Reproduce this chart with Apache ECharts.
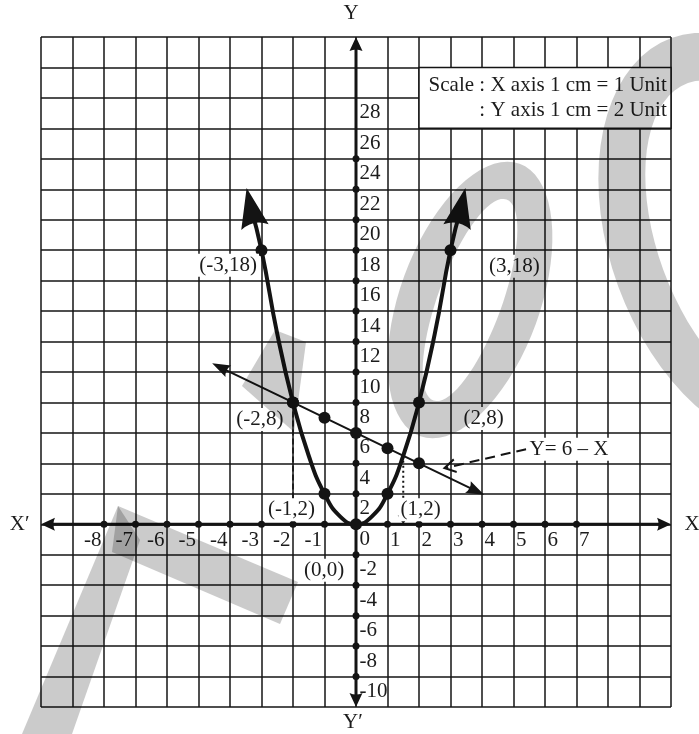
<!DOCTYPE html>
<html>
<head>
<meta charset="utf-8">
<title>Y = 2X² and Y = 6 − X</title>
<script src="https://cdn.jsdelivr.net/npm/echarts@6/dist/echarts.min.js"></script>
<style>
  html, body { margin: 0; padding: 0; background: #fff; }
  #main { width: 699px; height: 734px; }
</style>
</head>
<body>
<div id="main"></div>
<script>
var myChart = echarts.init(document.getElementById('main'));

// tick labels
var xTickValues = [-8, -7, -6, -5, -4, -3, -2, -1, 1, 2, 3, 4, 5, 6, 7];
var yTickValues = [28, 26, 24, 22, 20, 18, 16, 14, 12, 10, 8, 6, 4, 2, 0, -2, -4, -6, -8, -10];
var yDotValues = [24, 22, 20, 18, 16, 14, 12, 10, 8, 6, 4, 2, -2, -4, -6, -8, -10];

// y = 2x^2 : plotted points and the drawn curve (ends under the arrow heads)
var parabolaPts = [[-3, 18], [-2, 8], [-1, 2], [0, 0], [1, 2], [2, 8], [3, 18]];
var parabolaPath = [[-3.34, 20.8], [-3, 18], [-2.5, 12.5], [-2, 8], [-1.5, 4.5], [-1, 2], [-0.5, 0.5], [0, 0],
                    [0.5, 0.5], [1, 2], [1.5, 4.5], [2, 8], [2.5, 12.5], [3, 18], [3.34, 20.8]];
var parabolaLabels = ['(-3,18)', '(-2,8)', '(-1,2)', '(0,0)', '(1,2)', '(2,8)', '(3,18)'];

// y = 6 - x
var linePts = [[-2, 8], [-1, 7], [0, 6], [1, 5], [2, 4]];
var lineEnds = [[-4.31, 10.31], [3.81, 2.19]];

// solutions dropped on the x axis
var dropLeft = [[-2, 8], [-2, 0.3]];
var dropRight = [[1.5, 4.5], [1.5, 0.3]];

// "Y = 6 - X" pointer
var annoText = 'Y= 6 – X';
var annoLine = [[5.4, 4.93], [2.82, 3.69]];

var scaleLines = ['Scale : X axis 1 cm = 1 Unit', ': Y axis 1 cm = 2 Unit'];
var axisNames = { x: 'X', xNeg: 'X′', y: 'Y', yNeg: 'Y′' };

var INK = '#141414';
var TXT = '#1c1c1c';
var WASH = '#cbcbcb';
var SERIF = '"Liberation Serif", "DejaVu Serif", serif';
var ARROW = 'path://M5,0 L10,14 Q5,11 0,14 Z';
var OPEN_ARROW = 'path://M0,12 L6,0 L12,12';

// where each point label sits relative to its point
var labelPlace = {
    '(-3,18)': { position: 'left', distance: 2, offset: [0, 15] },
    '(3,18)': { position: 'right', distance: 36, offset: [0, 16] },
    '(-2,8)': { position: 'left', distance: 7, offset: [0, 17] },
    '(2,8)': { position: 'right', distance: 42, offset: [0, 16] },
    '(-1,2)': { position: 'inside', distance: 0, offset: [-33, 16] },
    '(1,2)': { position: 'inside', distance: 0, offset: [33, 16] },
    '(0,0)': { position: 'inside', distance: 0, offset: [-32, 46] }
};

var labelFont = { fontFamily: SERIF, fontSize: 21, color: TXT };

function textPoint(value, label) {
    return { value: value, label: label };
}

// watermark ring outline: outer loop one way, inner loop back the other way
function ringPoints(cx, cy, rx, ry, t, rot) {
    var a = rot * Math.PI / 180, pts = [], n = 72, i, s;
    for (i = 0; i <= n; i++) {
        s = 2 * Math.PI * i / n;
        pts.push([cx + rx * Math.cos(s) * Math.cos(a) - ry * Math.sin(s) * Math.sin(a),
                  cy + rx * Math.cos(s) * Math.sin(a) + ry * Math.sin(s) * Math.cos(a)]);
    }
    for (i = n; i >= 0; i--) {
        s = 2 * Math.PI * i / n;
        pts.push([cx + (rx - t) * Math.cos(s) * Math.cos(a) - (ry - t) * Math.sin(s) * Math.sin(a),
                  cy + (rx - t) * Math.cos(s) * Math.sin(a) + (ry - t) * Math.sin(s) * Math.cos(a)]);
    }
    return pts;
}

var arrowHeads = [
    { value: [-9.78, 0], symbol: ARROW, symbolSize: [13, 14], symbolRotate: 90 },
    { value: [9.78, 0], symbol: ARROW, symbolSize: [13, 14], symbolRotate: -90 },
    { value: [0, 31.54], symbol: ARROW, symbolSize: [13, 14], symbolRotate: 0 },
    { value: [0, -11.54], symbol: ARROW, symbolSize: [13, 14], symbolRotate: 180 },
    { value: parabolaPath[0], symbol: ARROW, symbolSize: [28, 40], symbolRotate: 12 },
    { value: parabolaPath[parabolaPath.length - 1], symbol: ARROW, symbolSize: [28, 40], symbolRotate: -12 },
    { value: lineEnds[0], symbol: ARROW, symbolSize: [13, 18], symbolRotate: 64 },
    { value: lineEnds[1], symbol: ARROW, symbolSize: [13, 18], symbolRotate: -116 },
    { value: dropLeft[1], symbol: 'triangle', symbolSize: [11, 9], symbolRotate: 180 },
    { value: dropRight[1], symbol: 'triangle', symbolSize: [11, 9], symbolRotate: 180 },
    { value: [2.98, 3.77], symbol: OPEN_ARROW, symbolSize: [13, 11], symbolRotate: 103,
      itemStyle: { color: 'none', borderColor: INK, borderWidth: 2 } }
];

var solid = { color: INK, opacity: 1 };
var hidden = { color: 'rgba(0,0,0,0)', opacity: 1 };
var washStyle = { fill: WASH, blend: 'multiply' };

option = {
    animation: false,
    backgroundColor: '#fff',
    grid: { left: 41, top: 37, width: 630, height: 670, show: false },
    xAxis: {
        type: 'value', min: -10, max: 10, interval: 1,
        axisLine: { show: false }, axisTick: { show: false }, axisLabel: { show: false },
        splitLine: { show: true, lineStyle: { color: INK, width: 1.5 } }
    },
    yAxis: {
        type: 'value', min: -12, max: 32, interval: 2,
        axisLine: { show: false }, axisTick: { show: false }, axisLabel: { show: false },
        splitLine: { show: true, lineStyle: { color: INK, width: 1.5 } }
    },
    // faint watermark behind the ink
    graphic: [
        { type: 'polygon', z: 100, silent: true, shape: { points: ringPoints(745, 240, 135, 215, 48, -20) }, style: washStyle },
        { type: 'polygon', z: 100, silent: true, shape: { points: ringPoints(470, 300, 70, 145, 38, 20) }, style: washStyle },
        { type: 'polygon', z: 100, silent: true, shape: { points: [[275, 330], [306, 342], [294, 432], [242, 386]] }, style: washStyle },
        { type: 'polygon', z: 100, silent: true, shape: { points: [[118, 506], [298, 582], [280, 624], [112, 552]] }, style: washStyle },
        { type: 'polygon', z: 100, silent: true, shape: { points: [[118, 506], [140, 540], [72, 734], [22, 734]] }, style: washStyle }
    ],
    series: [
        // scale box
        {
            type: 'scatter', data: [], silent: true, z: 1,
            markArea: {
                silent: true,
                itemStyle: { color: '#fff', borderColor: INK, borderWidth: 1.5, opacity: 1 },
                label: {
                    show: true, position: 'insideRight', distance: 5, align: 'right',
                    fontFamily: SERIF, fontSize: 21, lineHeight: 25, color: TXT,
                    formatter: scaleLines.join('\n')
                },
                data: [[{ coord: [2, 30] }, { coord: [10, 26] }]]
            }
        },
        // x axis
        {
            type: 'line', symbol: 'none', silent: true, z: 3,
            data: [[-9.78, 0], [9.78, 0]],
            lineStyle: { color: INK, width: 3 }
        },
        // y axis
        {
            type: 'line', symbol: 'none', silent: true, z: 3,
            data: [[0, -11.54], [0, 31.54]],
            lineStyle: { color: INK, width: 3 }
        },
        // axis dots
        {
            type: 'scatter', silent: true, z: 4, symbolSize: 7,
            itemStyle: solid,
            data: xTickValues.map(function (x) { return [x, 0]; })
                .concat(yDotValues.map(function (y) { return [0, y]; }))
        },
        // x tick labels
        {
            type: 'scatter', silent: true, z: 4, symbolSize: 1,
            itemStyle: hidden,
            label: Object.assign({ show: true, distance: 2, offset: [0, 16],
                formatter: function (p) { return String(p.value[0]); } }, labelFont),
            data: xTickValues.map(function (x) {
                return textPoint([x, 0], { position: x < 0 ? 'left' : 'right' });
            })
        },
        // y tick labels
        {
            type: 'scatter', silent: true, z: 4, symbolSize: 1,
            itemStyle: hidden,
            label: Object.assign({ show: true, position: 'right', distance: 3, offset: [0, 15],
                formatter: function (p) { return String(p.value[1]); } }, labelFont),
            data: yTickValues.map(function (y) { return [0, y]; })
        },
        // parabola
        {
            type: 'line', symbol: 'none', smooth: true, silent: true, z: 5,
            data: parabolaPath,
            lineStyle: { color: INK, width: 4 }
        },
        // straight line
        {
            type: 'line', symbol: 'none', silent: true, z: 5,
            data: [lineEnds[0]].concat(linePts, [lineEnds[1]]),
            lineStyle: { color: INK, width: 2 }
        },
        // drops to the x axis
        {
            type: 'line', symbol: 'none', silent: true, z: 5,
            data: dropLeft,
            lineStyle: { color: INK, width: 1.6, type: [6, 3] }
        },
        {
            type: 'line', symbol: 'none', silent: true, z: 5,
            data: dropRight,
            lineStyle: { color: INK, width: 2, type: [2, 3] }
        },
        // pointer to the line
        {
            type: 'line', symbol: 'none', silent: true, z: 5,
            data: annoLine,
            lineStyle: { color: INK, width: 2, type: [10, 6] }
        },
        // plotted points
        {
            type: 'scatter', silent: true, z: 6, symbolSize: 12,
            itemStyle: solid,
            data: parabolaPts.concat(linePts)
        },
        // arrow heads
        {
            type: 'scatter', silent: true, z: 7,
            itemStyle: solid,
            data: arrowHeads
        },
        // point labels
        {
            type: 'scatter', silent: true, z: 8, symbolSize: 1,
            itemStyle: hidden,
            label: Object.assign({ show: true, backgroundColor: '#fff', padding: [2, 2, 0, 2],
                formatter: function (p) { return p.name; } }, labelFont),
            data: parabolaPts.map(function (pt, i) {
                var name = parabolaLabels[i];
                return { name: name, value: pt, label: labelPlace[name] };
            }).concat([{
                name: annoText, value: annoLine[0],
                label: { position: 'right', distance: 0, offset: [0, 0], padding: [2, 3, 0, 3] }
            }])
        },
        // axis names
        {
            type: 'scatter', silent: true, z: 8, symbolSize: 1,
            itemStyle: hidden,
            label: Object.assign({ show: true, formatter: function (p) { return p.name; } }, labelFont),
            data: [
                { name: axisNames.xNeg, value: [-10, 0], label: { position: 'left', distance: 11 } },
                { name: axisNames.x, value: [10, 0], label: { position: 'right', distance: 13 } },
                { name: axisNames.y, value: [0, 32], label: { position: 'top', distance: 13, offset: [-5, 0] } },
                { name: axisNames.yNeg, value: [0, -12], label: { position: 'bottom', distance: 4, offset: [-3, 0] } }
            ]
        }
    ]
};

myChart.setOption(option);
</script>
</body>
</html>
